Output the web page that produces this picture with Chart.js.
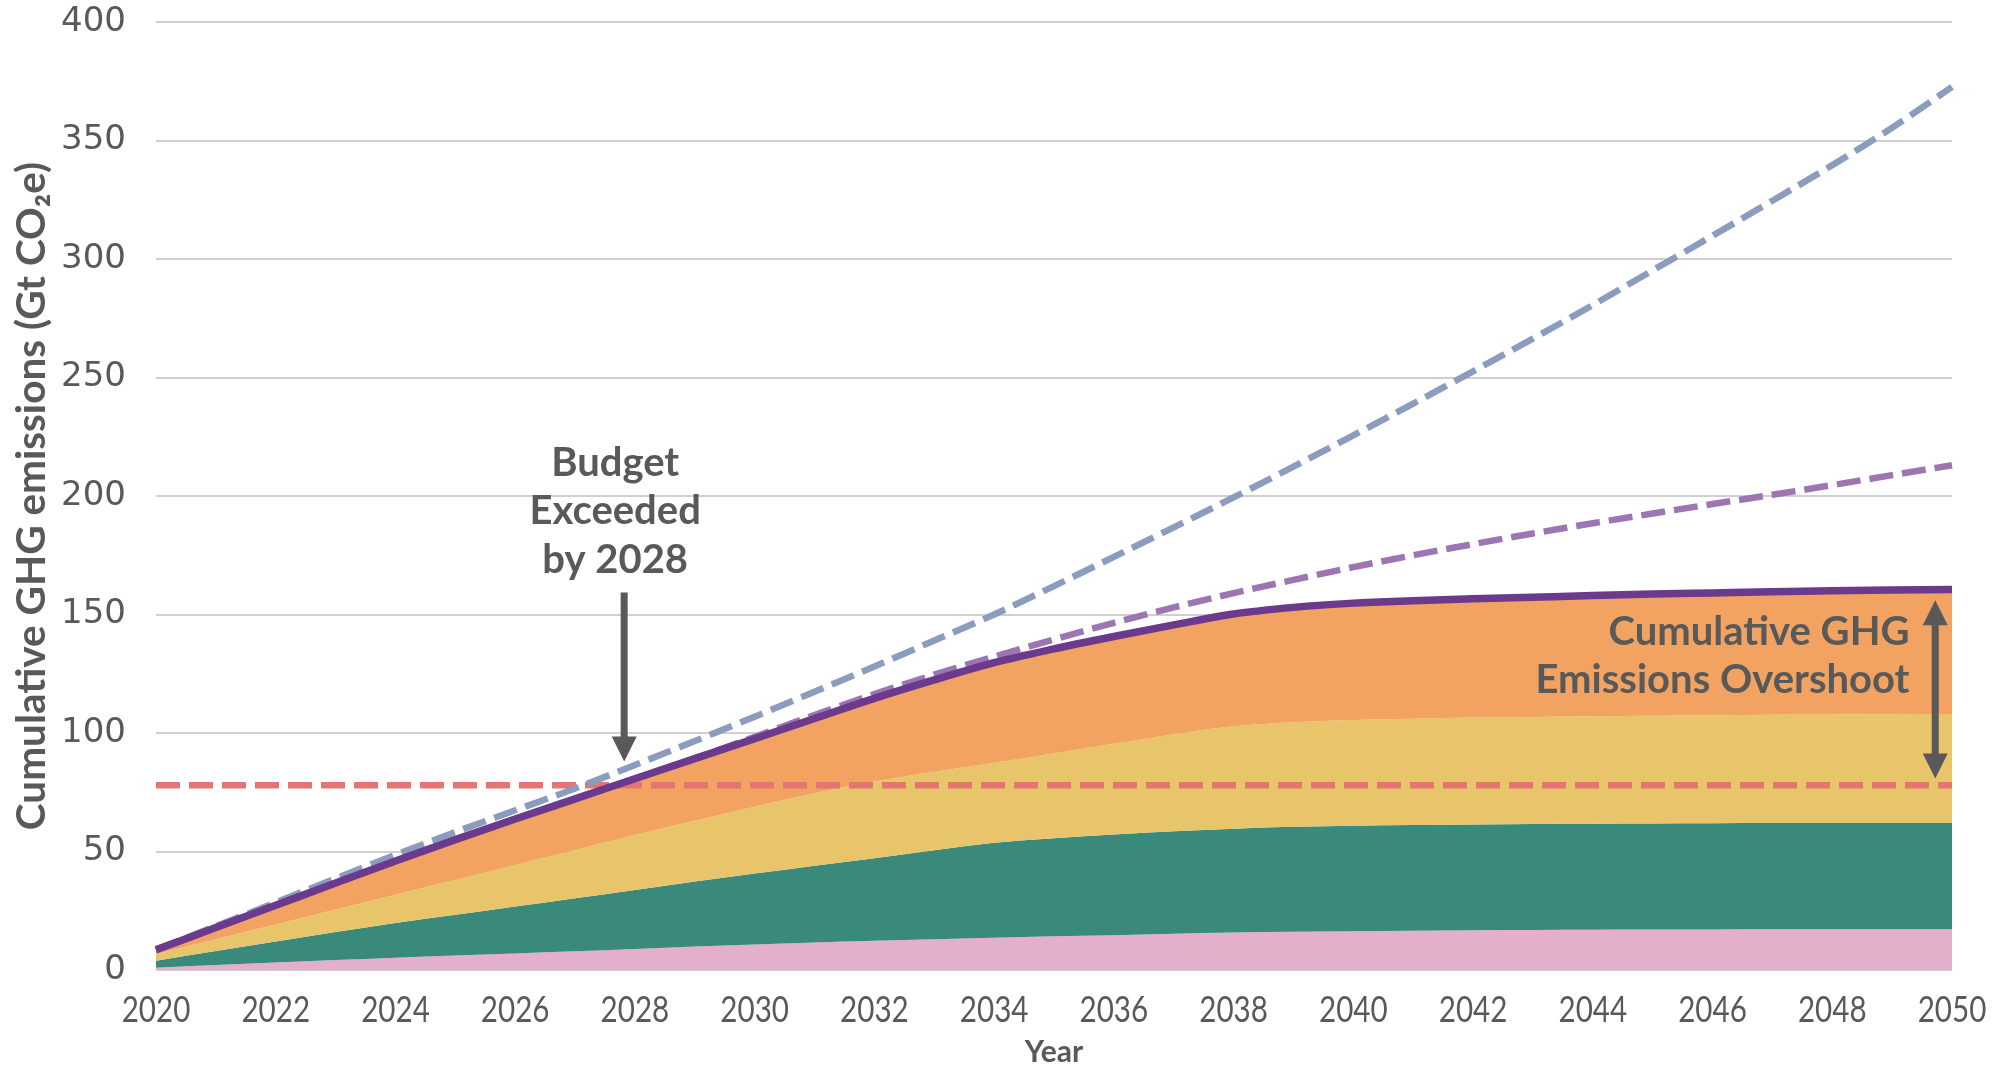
<!DOCTYPE html>
<html>
<head>
<meta charset="utf-8">
<script src="https://cdn.jsdelivr.net/npm/chart.js@4"></script>
<style>
  html, body { margin: 0; padding: 0; background: #fff; }
  #wrap { width: 2000px; height: 1070px; }
</style>
</head>
<body>
<div id="wrap"><canvas id="chart" width="2000" height="1070"></canvas></div>
<script>
// Years on the x axis
const years = [2020, 2021, 2022, 2023, 2024, 2025, 2026, 2027, 2028, 2029, 2030,
  2031, 2032, 2033, 2034, 2035, 2036, 2037, 2038, 2039, 2040,
  2041, 2042, 2043, 2044, 2045, 2046, 2047, 2048, 2049, 2050];

// Cumulative tops of the stacked bands (Gt CO2e)
const pinkTop = [1.0, 2.1, 3.2, 4.2, 5.2, 6.1, 7.0, 7.9, 8.9, 9.9, 10.8,
  11.6, 12.3, 13.0, 13.6, 14.2, 14.7, 15.3, 15.8, 16.1, 16.4,
  16.6, 16.8, 16.9, 17.0, 17.1, 17.1, 17.2, 17.2, 17.2, 17.2];
const tealTop = [3.9, 8.0, 12.0, 16.0, 19.8, 23.3, 26.8, 30.3, 33.8, 37.3, 40.7,
  44.0, 47.2, 50.5, 53.7, 55.6, 57.2, 58.5, 59.6, 60.4, 60.9,
  61.2, 61.4, 61.6, 61.7, 61.8, 61.9, 62.0, 62.0, 62.0, 62.0];
const yellowTop = [6.6, 13.0, 19.2, 25.5, 31.8, 38.0, 44.3, 50.6, 57.0, 63.0, 68.9,
  74.6, 79.5, 83.6, 87.4, 91.5, 95.5, 99.5, 102.8, 104.5, 105.5,
  106.0, 106.5, 106.8, 107.1, 107.3, 107.5, 107.7, 107.8, 107.9, 108.0];
const totalTop = [8.5, 17.9, 27.3, 36.7, 46.0, 55.0, 63.7, 72.2, 80.7, 89.2, 97.6,
  106.1, 114.6, 122.4, 129.7, 135.5, 140.7, 145.6, 150.2, 153.0, 154.8,
  155.8, 156.6, 157.3, 158.0, 158.6, 159.1, 159.6, 160.0, 160.3, 160.6];

// Dashed reference trajectories
const purpleDashed = [8.5, 17.9, 27.3, 36.7, 46.0, 55.0, 63.7, 72.2, 80.7, 89.3, 98.4,
  107.6, 116.4, 124.6, 132.2, 139.5, 146.5, 153.0, 159.0, 164.6, 170.0,
  175.0, 179.7, 184.2, 188.5, 192.6, 196.6, 200.5, 204.6, 208.8, 213.0];
const blueDashed = [8.5, 18.5, 28.5, 38.6, 48.6, 58.2, 67.4, 76.6, 86.5, 96.6, 106.9,
  117.4, 128.1, 139.0, 150.0, 162.0, 174.3, 186.8, 199.4, 212.4, 225.6,
  239.0, 252.6, 266.4, 280.6, 295.2, 309.8, 324.6, 339.6, 355.4, 372.6];
const budget = 78;

// Axis ticks
const yTicks = [0, 50, 100, 150, 200, 250, 300, 350, 400];
const xTickYears = [2020, 2022, 2024, 2026, 2028, 2030, 2032, 2034, 2036, 2038,
  2040, 2042, 2044, 2046, 2048, 2050];

// Annotation anchors (data units)
const budgetNote = { year: 2027.67, lines: ['Budget', 'Exceeded', 'by 2028'], values: [214, 193.8, 173.1] };
const budgetArrow = { year: 2027.82, from: 159.3, to: 88 };
const overshootNote = { year: 2049.29, lines: ['Cumulative GHG', 'Emissions Overshoot'], values: [142.6, 122.3] };
const overshootArrow = { year: 2049.72, from: 156, to: 80.8 };

const TEXT = '#595959';
const GRID = '#d0d0d0';

function idx(year) { return year - years[0]; }

function drawArrowHead(ctx, x, tipY, dir) {
  const hw = 12.5, hl = 25;
  ctx.beginPath();
  ctx.moveTo(x, tipY);
  ctx.lineTo(x - hw, tipY - dir * hl);
  ctx.lineTo(x + hw, tipY - dir * hl);
  ctx.closePath();
  ctx.fill();
}

// narrow year labels under the plot
const yearLabels = {
  id: 'yearLabels',
  afterDraw(chart) {
    const { ctx, scales: { x }, chartArea } = chart;
    ctx.save();
    ctx.fillStyle = TEXT;
    ctx.font = '37px Lato';
    ctx.textAlign = 'center';
    ctx.textBaseline = 'middle';
    xTickYears.forEach(yr => {
      const px = x.getPixelForValue(idx(yr));
      ctx.save();
      ctx.translate(px, chartArea.bottom + 40);
      ctx.scale(0.8, 1);
      ctx.fillText(String(yr), 0, 0);
      ctx.restore();
    });
    ctx.restore();
  }
};

const annotations = {
  id: 'annotations',
  afterDatasetsDraw(chart) {
    const { ctx, scales: { x, y } } = chart;
    ctx.save();
    ctx.fillStyle = TEXT;
    ctx.strokeStyle = TEXT;
    ctx.font = 'bold 40px Lato';
    ctx.textBaseline = 'middle';

    // Budget note + down arrow
    ctx.textAlign = 'center';
    budgetNote.lines.forEach((t, i) => {
      ctx.fillText(t, x.getPixelForValue(idx(budgetNote.year)), y.getPixelForValue(budgetNote.values[i]));
    });
    let ax = x.getPixelForValue(idx(budgetArrow.year));
    let y0 = y.getPixelForValue(budgetArrow.from), y1 = y.getPixelForValue(budgetArrow.to);
    ctx.lineWidth = 7;
    ctx.beginPath(); ctx.moveTo(ax, y0); ctx.lineTo(ax, y1 - 20); ctx.stroke();
    drawArrowHead(ctx, ax, y1, 1);

    // Overshoot note + double arrow
    ctx.textAlign = 'right';
    overshootNote.lines.forEach((t, i) => {
      ctx.fillText(t, x.getPixelForValue(idx(overshootNote.year)), y.getPixelForValue(overshootNote.values[i]));
    });
    ax = x.getPixelForValue(idx(overshootArrow.year));
    y0 = y.getPixelForValue(overshootArrow.from); y1 = y.getPixelForValue(overshootArrow.to);
    ctx.beginPath(); ctx.moveTo(ax, y0 + 20); ctx.lineTo(ax, y1 - 20); ctx.stroke();
    drawArrowHead(ctx, ax, y0, -1);
    drawArrowHead(ctx, ax, y1, 1);
    ctx.restore();
  }
};

const area = (label, data, color, order, fill) => ({
  label, data, fill, order,
  backgroundColor: color,
  borderColor: 'rgba(0,0,0,0)',
  borderWidth: 0,
  pointRadius: 0,
  tension: 0.3,
  cubicInterpolationMode: 'monotone'
});

const line = (label, data, color, order, width, dash) => ({
  label, data, order,
  fill: false,
  borderColor: color,
  borderWidth: width,
  borderDash: dash,
  pointRadius: 0,
  tension: 0.3,
  cubicInterpolationMode: 'monotone',
  borderCapStyle: 'butt'
});

new Chart(document.getElementById('chart'), {
  type: 'line',
  data: {
    labels: years,
    datasets: [
      area('Pink', pinkTop, '#e3afcb', 10, 'origin'),
      area('Teal', tealTop, '#3a8a7c', 9, '-1'),
      area('Yellow', yellowTop, '#e8c46a', 8, '-1'),
      area('Orange', totalTop, '#f2a261', 7, '-1'),
      line('Budget', years.map(() => budget), '#e57571', 3, 6.5, [24, 9]),
      line('Purple dashed', purpleDashed, '#9d75b2', 2, 6.5, [24, 9]),
      line('Blue dashed', blueDashed, '#8c9cbf', 1, 6.5, [24, 9]),
      line('Total', totalTop, '#6b3a8c', 0, 7.5, [])
    ]
  },
  options: {
    responsive: false,
    animation: false,
    devicePixelRatio: 1,
    layout: { padding: { top: 22, right: 48, left: 0, bottom: 0 } },
    plugins: { legend: { display: false }, tooltip: { enabled: false } },
    scales: {
      x: {
        type: 'category',
        grid: { display: false, drawTicks: false },
        border: { display: false },
        ticks: { display: false },
        title: {
          display: true, text: 'Year', color: TEXT,
          font: { family: 'Lato', weight: 'bold', size: 30 },
          padding: { top: 0, bottom: 0 }
        },
        afterFit: s => { s.height = 100; }
      },
      y: {
        min: 0, max: 400,
        afterBuildTicks: s => { s.ticks = yTicks.map(v => ({ value: v })); },
        grid: { color: GRID, lineWidth: 2, drawTicks: true, tickLength: 30, tickColor: 'rgba(0,0,0,0)' },
        border: { display: false },
        ticks: {
          padding: 0,
          color: TEXT,
          font: { family: '"DejaVu Sans"', size: 34 }
        },
        title: {
          display: true, text: 'Cumulative GHG emissions (Gt CO\u2082e)', color: TEXT,
          font: { family: 'Lato', weight: 'bold', size: 40.5 },
          padding: { top: 8, bottom: 0 }
        },
        afterFit: s => { s.width = 156; }
      }
    }
  },
  plugins: [annotations, yearLabels]
});
</script>
</body>
</html>
